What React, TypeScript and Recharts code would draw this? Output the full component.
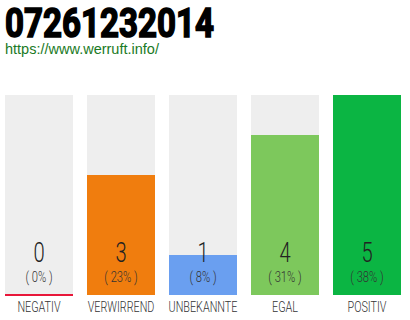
import React from 'react';
import { BarChart, Bar, XAxis, YAxis, LabelList } from 'recharts';

const categories = ['NEGATIV', 'VERWIRREND', 'UNBEKANNTE', 'EGAL', 'POSITIV'];
const counts = [0, 3, 1, 4, 5];
const barColors = ['#e8173a', '#f07d0e', '#6a9ff0', '#7dc85c', '#0bb543'];
const phoneNumber = '07261232014';
const siteUrl = 'https://www.werruft.info/';

const W = 410;
const H = 320;
const MARGIN = { top: 95, right: 2, bottom: 0, left: -2 };
const AXIS_H = 25;
const PLOT_BOTTOM = H - MARGIN.bottom - AXIS_H;
const THIN = 'Roboto, "DejaVu Sans Condensed", sans-serif';

const total = counts.reduce((a, b) => a + b, 0);
const data = categories.map((name, i) => ({
  name,
  value: counts[i],
  pct: Math.round((counts[i] / total) * 100),
  color: barColors[i],
}));

// bars with a zero value still get a thin line along the baseline
const VoteBar = (props: any) => {
  const { x, y, width, height, payload } = props;
  if (!height) {
    return <rect x={x} y={PLOT_BOTTOM - 1} width={width} height={2} fill={payload.color} />;
  }
  return <rect x={x} y={y} width={width} height={height} fill={payload.color} />;
};

const CountLabel = (props: any) => {
  const { x, width, index } = props;
  const d = data[index];
  const cx = x + width / 2;
  return (
    <g fontFamily={THIN} fontWeight={300}>
      <text transform={`translate(${cx},${PLOT_BOTTOM - 33}) scale(0.72,1)`} textAnchor="middle" fontSize={28} fill="#222">
        {d.value}
      </text>
      <text transform={`translate(${cx},${PLOT_BOTTOM - 13}) scale(0.8,1)`} textAnchor="middle" fontSize={14} fill="#333">
        {`( ${d.pct}% )`}
      </text>
    </g>
  );
};

const CategoryTick = (props: any) => {
  const { x, payload } = props;
  return (
    <text
      transform={`translate(${x},${PLOT_BOTTOM + 17}) scale(0.72,1)`}
      textAnchor="middle"
      fontFamily={THIN}
      fontWeight={300}
      fontSize={15}
      fill="#333"
    >
      {payload.value}
    </text>
  );
};

export default function App() {
  return (
    <div style={{ position: 'absolute', left: 0, top: 0, width: W, height: H, background: '#fff' }}>
      <svg width={W} height={70} style={{ position: 'absolute', left: 0, top: 0 }}>
        <text
          x={5}
          y={37}
          fontFamily='Roboto, "DejaVu Sans Condensed", sans-serif'
          fontWeight={700}
          fontSize={41}
          fill="#000"
          stroke="#000"
          strokeWidth={1.6}
          textLength={209}
          lengthAdjust="spacingAndGlyphs"
        >
          {phoneNumber}
        </text>
        <text x={5} y={54} fontFamily='"Liberation Sans", Arial, sans-serif' fontSize={14.5} fill="#1a7a25">
          {siteUrl}
        </text>
      </svg>
      <div style={{ position: 'absolute', left: 0, top: 0 }}>
        <BarChart width={W} height={H} data={data} margin={MARGIN}>
          <XAxis dataKey="name" axisLine={false} tickLine={false} height={AXIS_H} tick={<CategoryTick />} interval={0} />
          <YAxis hide domain={[0, 5]} />
          <Bar
            dataKey="value"
            barSize={68}
            background={{ fill: '#eeeeee' }}
            shape={<VoteBar />}
            isAnimationActive={false}
          >
            <LabelList dataKey="value" content={<CountLabel />} />
          </Bar>
        </BarChart>
      </div>
    </div>
  );
}
